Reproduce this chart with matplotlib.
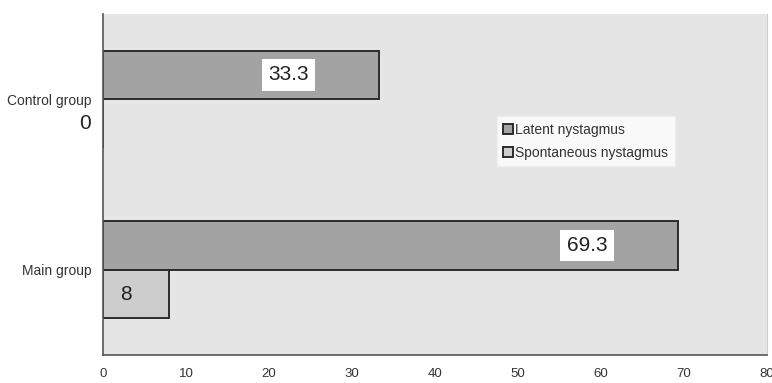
import matplotlib

matplotlib.use("Agg")
import matplotlib.pyplot as plt
import numpy as np

groups = ["Main group", "Control group"]
latent = [69.3, 33.3]
spontaneous = [8, 0]
series_names = ["Latent nystagmus", "Spontaneous nystagmus"]
xticks = [0, 10, 20, 30, 40, 50, 60, 70, 80]

plt.rcParams["font.family"] = ["Liberation Sans", "DejaVu Sans"]

fig = plt.figure(figsize=(7.72, 3.83), dpi=100)
ax = fig.add_axes([0.1334, 0.0731, 0.8601, 0.8903])
ax.set_facecolor("#e5e5e5")

y = np.arange(len(groups))
h = 0.285
b1 = ax.barh(y + h / 2, latent, height=h, color="#a3a3a3", edgecolor="#2b2b2b",
             lw=1.4, label=series_names[0])
b2 = ax.barh(y - h / 2, spontaneous, height=h, color="#cdcdcd", edgecolor="#2b2b2b",
             lw=1.4, label=series_names[1])

box = dict(boxstyle="square,pad=0.3", fc="white", ec="none")
for rect, val in zip(b1, latent):
    ax.annotate(f"{val:g}", (val, rect.get_y() + rect.get_height() / 2),
                xytext=(-51, 0), textcoords="offset points", ha="right", va="center",
                fontsize=15, color="#222222", bbox=box)
for rect, val in zip(b2, spontaneous):
    cy = rect.get_y() + rect.get_height() / 2
    if val == 0:
        ax.annotate("0", (0, cy), xytext=(-9, 0), textcoords="offset points",
                    ha="right", va="center", fontsize=15, color="#222222",
                    annotation_clip=False)
    else:
        ax.annotate(f"{val:g}", (val * 0.35, cy), ha="center", va="center",
                    fontsize=15, color="#222222")

ax.set_xlim(0, 80)
ax.set_ylim(-0.5, 1.5)
ax.set_xticks(xticks)
ax.set_xticklabels([str(t) for t in xticks], fontsize=9.5, color="#333333")
ax.set_yticks(y)
ax.set_yticklabels(groups, fontsize=10, color="#333333")
ax.tick_params(axis="x", length=0, pad=9)
ax.tick_params(axis="y", length=0, pad=8)

for side in ["left", "bottom"]:
    ax.spines[side].set_color("#555555")
    ax.spines[side].set_linewidth(1.2)
ax.spines["top"].set_visible(False)
ax.spines["right"].set_color("#cccccc")

leg = ax.legend(loc="upper left", bbox_to_anchor=(0.593, 0.70), fontsize=10,
                frameon=True, fancybox=False, handlelength=0.7, handleheight=0.7,
                handletextpad=0.2, borderpad=0.45, labelspacing=0.65, borderaxespad=0)
leg.get_frame().set_facecolor("white")
leg.get_frame().set_edgecolor("#eeeeee")
for t in leg.get_texts():
    t.set_color("#333333")

fig.savefig("out.png", dpi=100)
plt.close(fig)
